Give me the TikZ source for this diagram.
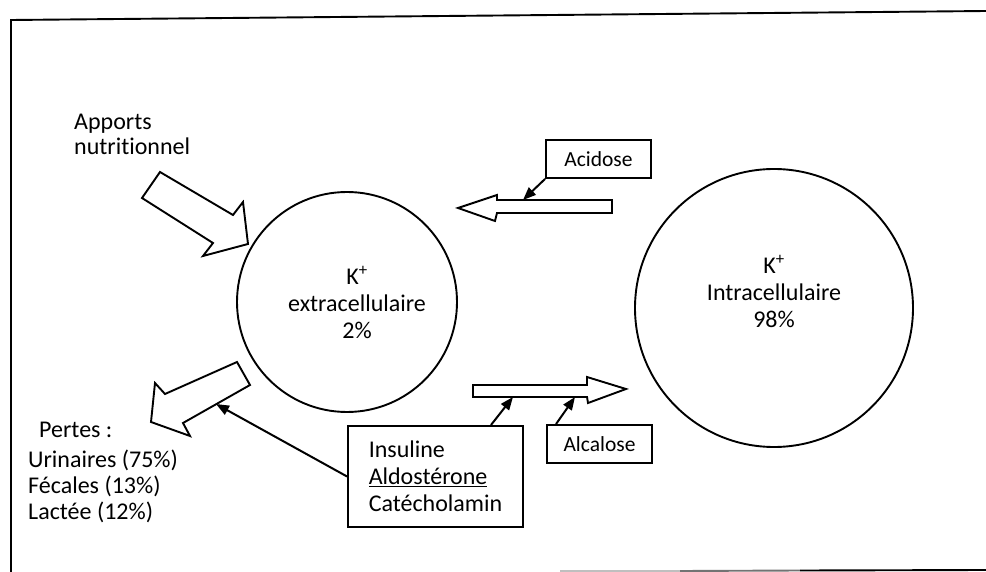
\documentclass[tikz,border=0pt]{standalone}
\usepackage{fontspec}
\setmainfont{Carlito}[Ligatures={NoCommon}]
\usetikzlibrary{arrows.meta}
\begin{document}
\begin{tikzpicture}[x=1pt,y=-1pt,
  outline/.style={draw=black,line width=1.9pt,line join=miter},
  pool/.style={circle,draw=black,line width=1.9pt,inner sep=0pt},
  bigtxt/.style={font=\fontsize{24}{27}\selectfont,align=center,inner sep=0pt},
  sidetxt/.style={font=\fontsize{24}{26}\selectfont,align=left,inner sep=0pt,anchor=west},
  tagbox/.style={draw=black,line width=1.9pt,minimum width=105pt,minimum height=38pt,inner sep=0pt,font=\fontsize{21.5}{25}\selectfont},
  link/.style={line width=2pt,-{Triangle[length=13pt,width=10pt]}}]
\useasboundingbox (0,0) rectangle (986,572);

% page frame
\draw[line width=1.9pt] (986,11) -- (11,20) -- (11,572);
\draw[line width=1.9pt,black!25] (560,571) -- (680,571);
\draw[line width=1.9pt,black!55] (680,571) -- (800,570.5);
\draw[line width=1.9pt,black] (800,570.5) -- (986,570);

% potassium pools
\node[pool,minimum size=220pt] (extra) at (347,302) {};
\node[bigtxt] (extraTxt) at (357,302) {K\textsuperscript{+}\\extracellulaire\\2\%};
\node[pool,minimum size=278pt] (intra) at (774,308) {};
\node[bigtxt] (intraTxt) at (774,291) {K\textsuperscript{+}\\Intracellulaire\\98\%};

% side texts
\node[sidetxt,font=\fontsize{24}{25}\selectfont] (apports) at (74,134) {Apports\\nutritionnel};
\node[sidetxt] (pertes) at (28,472) {\hspace*{11pt}Pertes :\\[4pt]Urinaires (75\%)\\Fécales (13\%)\\Lactée (12\%)};

% block arrows
\draw[outline] (160,172) -- (233,215) -- (243,202) -- (248,244) -- (203,256) -- (213,243) -- (142,198) -- cycle;
\draw[outline] (237,362) -- (165,394) -- (155,383) -- (151,422) -- (190,436) -- (183,423) -- (250,385) -- cycle;
\draw[outline] (458,208) -- (497,195) -- (497,200) -- (612,200) -- (612,213) -- (497,213) -- (495,221) -- cycle;
\draw[outline] (626,389) -- (587,377) -- (587,385) -- (473,385) -- (473,397) -- (587,397) -- (588,403) -- cycle;

\coordinate (lossShaft) at (216,404);
\coordinate (acidShaft) at (523,200);
\coordinate (alkShaftA) at (513,397);
\coordinate (alkShaftB) at (575,397);

% regulating factors
\node[tagbox] (acidose) at (598.5,159) {Acidose};
\node[tagbox] (alcalose) at (599.5,444) {Alcalose};
\node[draw=black,line width=1.9pt,minimum width=175pt,minimum height=101pt,inner sep=0pt,
      align=left,font=\fontsize{24}{27}\selectfont] (hormones) at (435.5,476.5)
      {Insuline\\\underline{Aldostérone}\\Catécholamin};

% connectors
\draw[link] (acidose.south west) -- (acidShaft);
\draw[link] ([xshift=-33pt]hormones.north east) -- (alkShaftA);
\draw[link] ([xshift=10pt]alcalose.north west) -- (alkShaftB);
\draw[link] (hormones.west) -- (lossShaft);
\end{tikzpicture}
\end{document}
